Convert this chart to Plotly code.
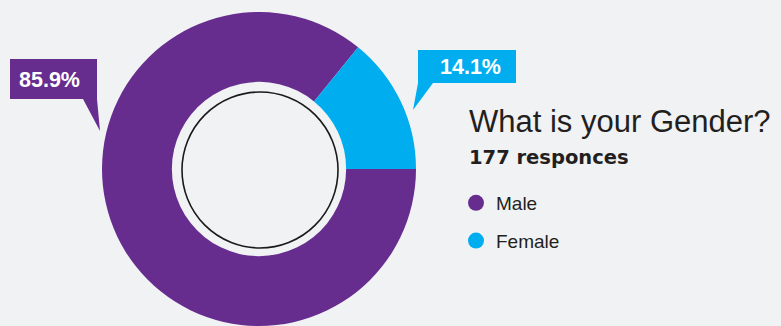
import plotly.graph_objects as go

# Survey answers
categories = ["Male", "Female"]
counts = [152, 25]
colors = ["#662D8F", "#00AEEF"]
question = "What is your Gender?"

W, H = 781, 326
BG = "#F1F2F4"
INK = "#231F20"

total = sum(counts)
shares = [c / total * 100 for c in counts]


def px(x):
    return x / W


def py(y):
    return 1 - y / H


fig = go.Figure()

# Donut: Male runs clockwise from 3 o'clock, Female closes the ring
fig.add_trace(go.Pie(
    labels=categories,
    values=counts,
    sort=False,
    direction="clockwise",
    rotation=90,
    hole=0.555,
    marker=dict(colors=colors, line=dict(width=0)),
    textinfo="none",
    hoverinfo="label+percent",
    showlegend=False,
    domain=dict(x=[0, 518 / W], y=[0, 314 / H]),
))

# Legend entries with round markers
for cat, col in zip(categories, colors):
    fig.add_trace(go.Scatter(
        x=[None], y=[None], mode="markers", name=cat, legendgroup=cat,
        marker=dict(size=17, color=col, symbol="circle"),
    ))

# Callout boxes with pointer tails
def poly(points):
    return "M " + " L ".join(f"{px(x)},{py(y)}" for x, y in points) + " Z"

callouts = [
    [(10, 59), (97, 59), (97, 99), (100, 131), (83, 99), (10, 99)],
    [(418, 50), (516, 50), (516, 83), (433, 83), (413, 110), (418, 83)],
]
label_pos = [(49.5, 79.5), (470, 67)]

shapes = []
for pts, col in zip(callouts, colors):
    shapes.append(dict(type="path", path=poly(pts), xref="paper", yref="paper",
                       fillcolor=col, line=dict(width=0), layer="above"))

# Thin ring inside the hole
cx, cy, rr = 260, 170, 78
shapes.append(dict(type="circle", xref="paper", yref="paper",
                   x0=px(cx - rr), x1=px(cx + rr), y0=py(cy + rr), y1=py(cy - rr),
                   line=dict(color="#1A1A1A", width=1.6), fillcolor="rgba(0,0,0,0)"))

annotations = []
for share, (x, y) in zip(shares, label_pos):
    annotations.append(dict(
        text=f"<b>{share:.1f}%</b>", x=px(x), y=py(y), xref="paper", yref="paper",
        xanchor="center", yanchor="middle", showarrow=False,
        font=dict(family="Arial, Liberation Sans", size=21.5, color="white"),
    ))

annotations.append(dict(
    text=question, x=px(467), y=py(121), xref="paper", yref="paper",
    xanchor="left", yanchor="middle", showarrow=False,
    font=dict(family="Arial, Liberation Sans", size=31, color=INK),
))
annotations.append(dict(
    text=f"<b>{total} responces</b>", x=px(467), y=py(157), xref="paper", yref="paper",
    xanchor="left", yanchor="middle", showarrow=False,
    font=dict(family="DejaVu Sans", size=19.5, color=INK),
))

fig.update_layout(
    width=W, height=H,
    margin=dict(l=0, r=0, t=0, b=0),
    paper_bgcolor=BG, plot_bgcolor=BG,
    xaxis=dict(visible=False), yaxis=dict(visible=False),
    shapes=shapes,
    annotations=annotations,
    legend=dict(
        x=px(456), y=py(184), xanchor="left", yanchor="top",
        font=dict(family="Arial, Liberation Sans", size=19, color=INK),
        traceorder="grouped", tracegroupgap=10,
        bgcolor="rgba(0,0,0,0)", itemsizing="trace",
    ),
    showlegend=True,
)

fig.write_html("out.html")
